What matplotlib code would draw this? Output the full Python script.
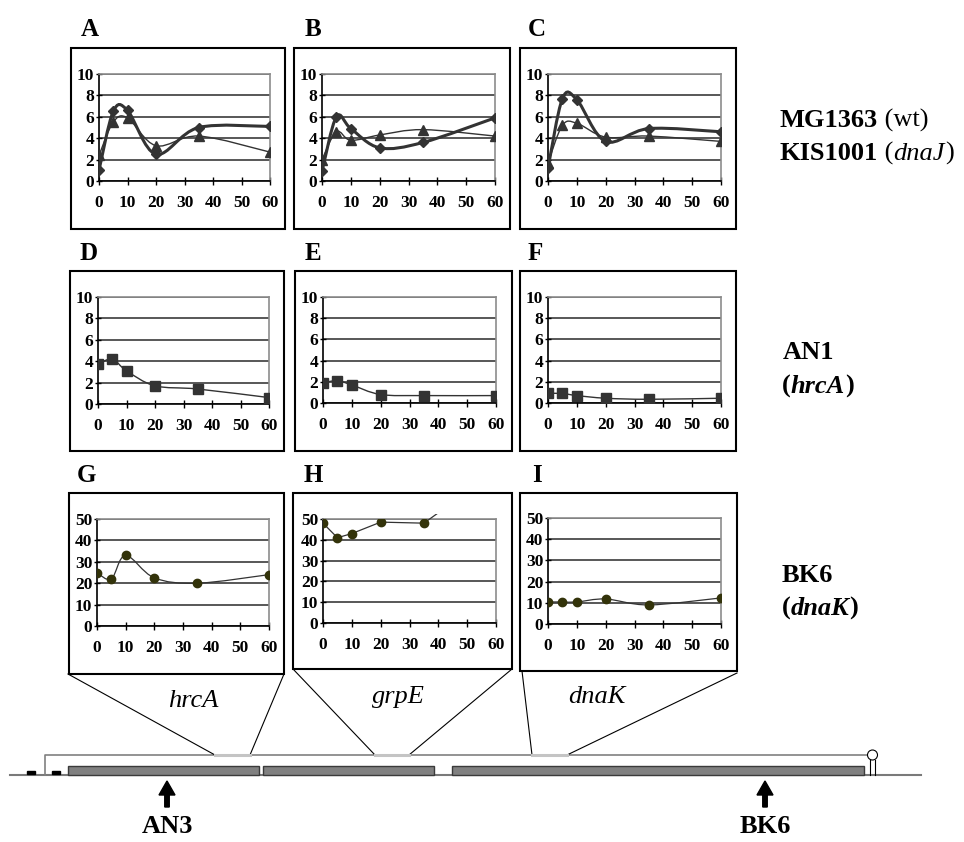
import matplotlib.pyplot as plt
from matplotlib.path import Path
from matplotlib.patches import PathPatch, Rectangle, Circle, FancyArrow

plt.rcParams['font.family'] = ['Liberation Serif', 'DejaVu Serif']

W, H = 964, 842
minutes = [0, 5, 10, 20, 35, 60]

# fold induction, MG1363 (wt, diamonds) and KIS1001 (dnaJ, triangles)
hrcA_wt = [1.0, 6.5, 6.6, 2.5, 5.0, 5.1]
hrcA_dnaJ = [2.4, 5.5, 5.9, 3.3, 4.2, 2.7]
grpE_wt = [0.9, 6.0, 4.9, 3.1, 3.6, 5.9]
grpE_dnaJ = [2.0, 4.6, 3.8, 4.3, 4.8, 4.2]
dnaK_wt = [1.2, 7.7, 7.6, 3.7, 4.9, 4.6]
dnaK_dnaJ = [1.7, 5.2, 5.4, 4.1, 4.2, 3.7]
# AN1 (hrcA), squares
hrcA_an1 = [3.7, 4.2, 3.1, 1.7, 1.4, 0.6]
grpE_an1 = [1.9, 2.1, 1.7, 0.8, 0.7, 0.7]
dnaK_an1 = [0.9, 0.9, 0.7, 0.45, 0.35, 0.45]
# BK6 (dnaK), circles -- last grpE value is off the scale
hrcA_bk6 = [24.8, 22.0, 33.0, 22.5, 20.0, 24.0]
grpE_bk6 = [48.0, 41.0, 43.0, 48.5, 48.0, 73.0]
dnaK_bk6 = [10.4, 10.4, 10.4, 11.8, 9.0, 12.3]

panel_letters = ['A', 'B', 'C', 'D', 'E', 'F', 'G', 'H', 'I']
genes = ['hrcA', 'grpE', 'dnaK']

DARK = '#333333'
OLIVE = '#33330a'


def smooth_path(x, y, smooth=True):
    """Bezier path through the points, like a spreadsheet 'smoothed line'."""
    pts = list(zip(x, y))
    if not smooth:
        return Path(pts)
    n = len(pts)
    verts = [pts[0]]
    codes = [Path.MOVETO]
    for i in range(n - 1):
        p0 = pts[i - 1] if i > 0 else pts[i]
        p1 = pts[i]
        p2 = pts[i + 1]
        p3 = pts[i + 2] if i + 2 < n else pts[i + 1]
        c1 = (p1[0] + (p2[0] - p0[0]) / 6, p1[1] + (p2[1] - p0[1]) / 6)
        c2 = (p2[0] - (p3[0] - p1[0]) / 6, p2[1] - (p3[1] - p1[1]) / 6)
        verts += [c1, c2, p2]
        codes += [Path.CURVE4] * 3
    return Path(verts, codes)


def px_axes(fig, x0, x1, ytop, ybot):
    return fig.add_axes([x0 / W, 1 - ybot / H, (x1 - x0) / W, (ybot - ytop) / H])


def style_axes(ax, ymax, ystep):
    ax.set_xlim(0, 60)
    ax.set_ylim(0, ymax)
    ax.set_xticks(range(0, 61, 10))
    ax.set_yticks(range(0, ymax + 1, ystep))
    ax.patch.set_alpha(0)
    for s in ['top', 'right']:
        ax.spines[s].set_color('#8c8c8c')
        ax.spines[s].set_linewidth(1.2)
    for s in ['left', 'bottom']:
        ax.spines[s].set_color('black')
        ax.spines[s].set_linewidth(1.2)
    ax.grid(axis='y', color='#2a2a2a', lw=1.1)
    ax.set_axisbelow(True)
    ax.tick_params(axis='both', direction='inout', length=6, width=1,
                   labelsize=12.5, colors='black')
    ax.tick_params(axis='x', pad=7)
    ax.tick_params(axis='y', pad=1, length=5)
    for lab in ax.get_xticklabels() + ax.get_yticklabels():
        lab.set_fontweight('bold')


def draw_series(ax, y, marker, ms, lw, mcolor, clip=None, smooth=True):
    patch = PathPatch(smooth_path(minutes, y, smooth), fill=False, ec=DARK,
                      lw=lw, transform=ax.transData, zorder=3)
    ax.add_patch(patch)
    if clip is not None:
        patch.set_clip_path(clip)
    ax.plot(minutes, y, ls='none', marker=marker, ms=ms, color=mcolor,
            mec=mcolor, zorder=4)


fig = plt.figure(figsize=(W / 100, H / 100), dpi=100)
ov = fig.add_axes([0, 0, 1, 1], zorder=0)
ov.set_xlim(0, W)
ov.set_ylim(H, 0)
ov.axis('off')

# outer panel boxes and letters
boxes = [(71, 285, 48, 229), (294, 510, 48, 229), (520, 736, 48, 229),
         (70, 284, 271, 451), (295, 512, 271, 451), (520, 736, 271, 451),
         (69, 284, 493, 674), (293, 512, 493, 669), (520, 737, 493, 671)]
letter_pos = [(81, 36), (305, 36), (528, 36), (80, 260), (305, 260), (528, 260),
              (77, 482), (304, 482), (532, 482)]
for (x0, x1, y0, y1), (lx, ly), letter in zip(boxes, letter_pos, panel_letters):
    ov.add_patch(Rectangle((x0, y0), x1 - x0, y1 - y0, fill=False,
                           ec='black', lw=1.5))
    ov.text(lx, ly, letter, fontsize=18, fontweight='bold', ha='left',
            va='baseline')

# inner charts
ax_pos = [(99, 270, 74, 181), (322, 495, 74, 181), (548, 721, 74, 181),
          (98, 269, 297, 404), (323, 496, 297, 403), (548, 721, 297, 403),
          (97, 269, 519, 626), (323, 496, 519, 623), (548, 721, 518, 624)]
axes = [px_axes(fig, *p) for p in ax_pos]

for ax, wt, dj in zip(axes[:3], [hrcA_wt, grpE_wt, dnaK_wt],
                      [hrcA_dnaJ, grpE_dnaJ, dnaK_dnaJ]):
    style_axes(ax, 10, 2)
    draw_series(ax, dj, '^', 6.5, 1.0, DARK)
    draw_series(ax, wt, 'D', 5.5, 2.2, DARK)

for ax, v in zip(axes[3:6], [hrcA_an1, grpE_an1, dnaK_an1]):
    style_axes(ax, 10, 2)
    draw_series(ax, v, 's', 6.5, 1.0, DARK)

for i, (ax, v) in enumerate(zip(axes[6:], [hrcA_bk6, grpE_bk6, dnaK_bk6])):
    style_axes(ax, 50, 10)
    clip = None
    if i == 1:
        clip = Rectangle((-1, -1), 62, 53.5, transform=ax.transData)
    draw_series(ax, v, 'o', 6, 0.9, OLIVE, clip=clip, smooth=(i != 1))


# strain labels with mixed styles
def mixed(x, y, pieces, size=19):
    r = fig.canvas.get_renderer()
    for txt, wt, st in pieces:
        t = ov.text(x, y, txt, fontsize=size, fontweight=wt, fontstyle=st,
                    ha='left', va='baseline')
        bb = t.get_window_extent(renderer=r)
        x += bb.width


mixed(780, 127, [('MG1363', 'bold', 'normal'), (' (wt)', 'normal', 'normal')])
mixed(780, 160, [('KIS1001', 'bold', 'normal'), (' (', 'normal', 'normal'),
                 ('dnaJ', 'normal', 'italic'), (')', 'normal', 'normal')])
mixed(783, 359, [('AN1', 'bold', 'normal')])
mixed(782, 393, [('(', 'bold', 'normal'), ('hrcA', 'bold', 'italic'),
                 (')', 'bold', 'normal')])
mixed(782, 582, [('BK6', 'bold', 'normal')])
mixed(782, 615, [('(', 'bold', 'normal'), ('dnaK', 'bold', 'italic'),
                 (')', 'bold', 'normal')])

# operon map
base_y, tr_y = 775, 755
ov.plot([10, 921], [base_y, base_y], color='#7a7a7a', lw=1.5)
ov.plot([45, 45, 867], [base_y, tr_y, tr_y], color='#808080', lw=1.2)
gene_boxes = [(68, 259), (263, 434), (452, 864)]
for x0, x1 in gene_boxes:
    ov.add_patch(Rectangle((x0, 766), x1 - x0, 9, fc='#808080', ec='#3a3a3a',
                           lw=1, zorder=3))
for x0 in [27, 52]:
    ov.add_patch(Rectangle((x0, 771), 8, 3, fc='black', ec='black', zorder=3))

# terminator hairpin
ov.plot([870, 870], [760, base_y], color='black', lw=0.8)
ov.plot([875, 875], [760, base_y], color='black', lw=0.8)
ov.add_patch(Circle((872.5, 755), 5, fc='white', ec='black', lw=0.8, zorder=4))

# probe regions and zoom lines
probes = [(215, 250), (375, 409), (532, 567)]
corners = [((68, 674), (284, 674)), ((293, 669), (512, 669)),
           ((522, 671), (737, 673))]
for (p0, p1), (bl, br) in zip(probes, corners):
    ov.plot([p0, p1], [tr_y, tr_y], color='#c4c4c4', lw=2.2, zorder=3)
    ov.plot([bl[0], p0], [bl[1], tr_y], color='black', lw=0.8)
    ov.plot([br[0], p1], [br[1], tr_y], color='black', lw=0.8)

gene_lab_pos = [(193, 707), (398, 703), (597, 703)]
for (gx, gy), g in zip(gene_lab_pos, genes):
    ov.text(gx, gy, g, fontsize=19, fontstyle='italic', ha='center',
            va='baseline')

# insertion arrows
for ax_x, name in [(167, 'AN3'), (765, 'BK6')]:
    ov.add_patch(FancyArrow(ax_x, 807, 0, -26, width=4.5, head_width=16,
                            head_length=14, length_includes_head=True,
                            color='black'))
    ov.text(ax_x, 833, name, fontsize=19, fontweight='bold', ha='center',
            va='baseline')

fig.savefig('out.png', dpi=100)
